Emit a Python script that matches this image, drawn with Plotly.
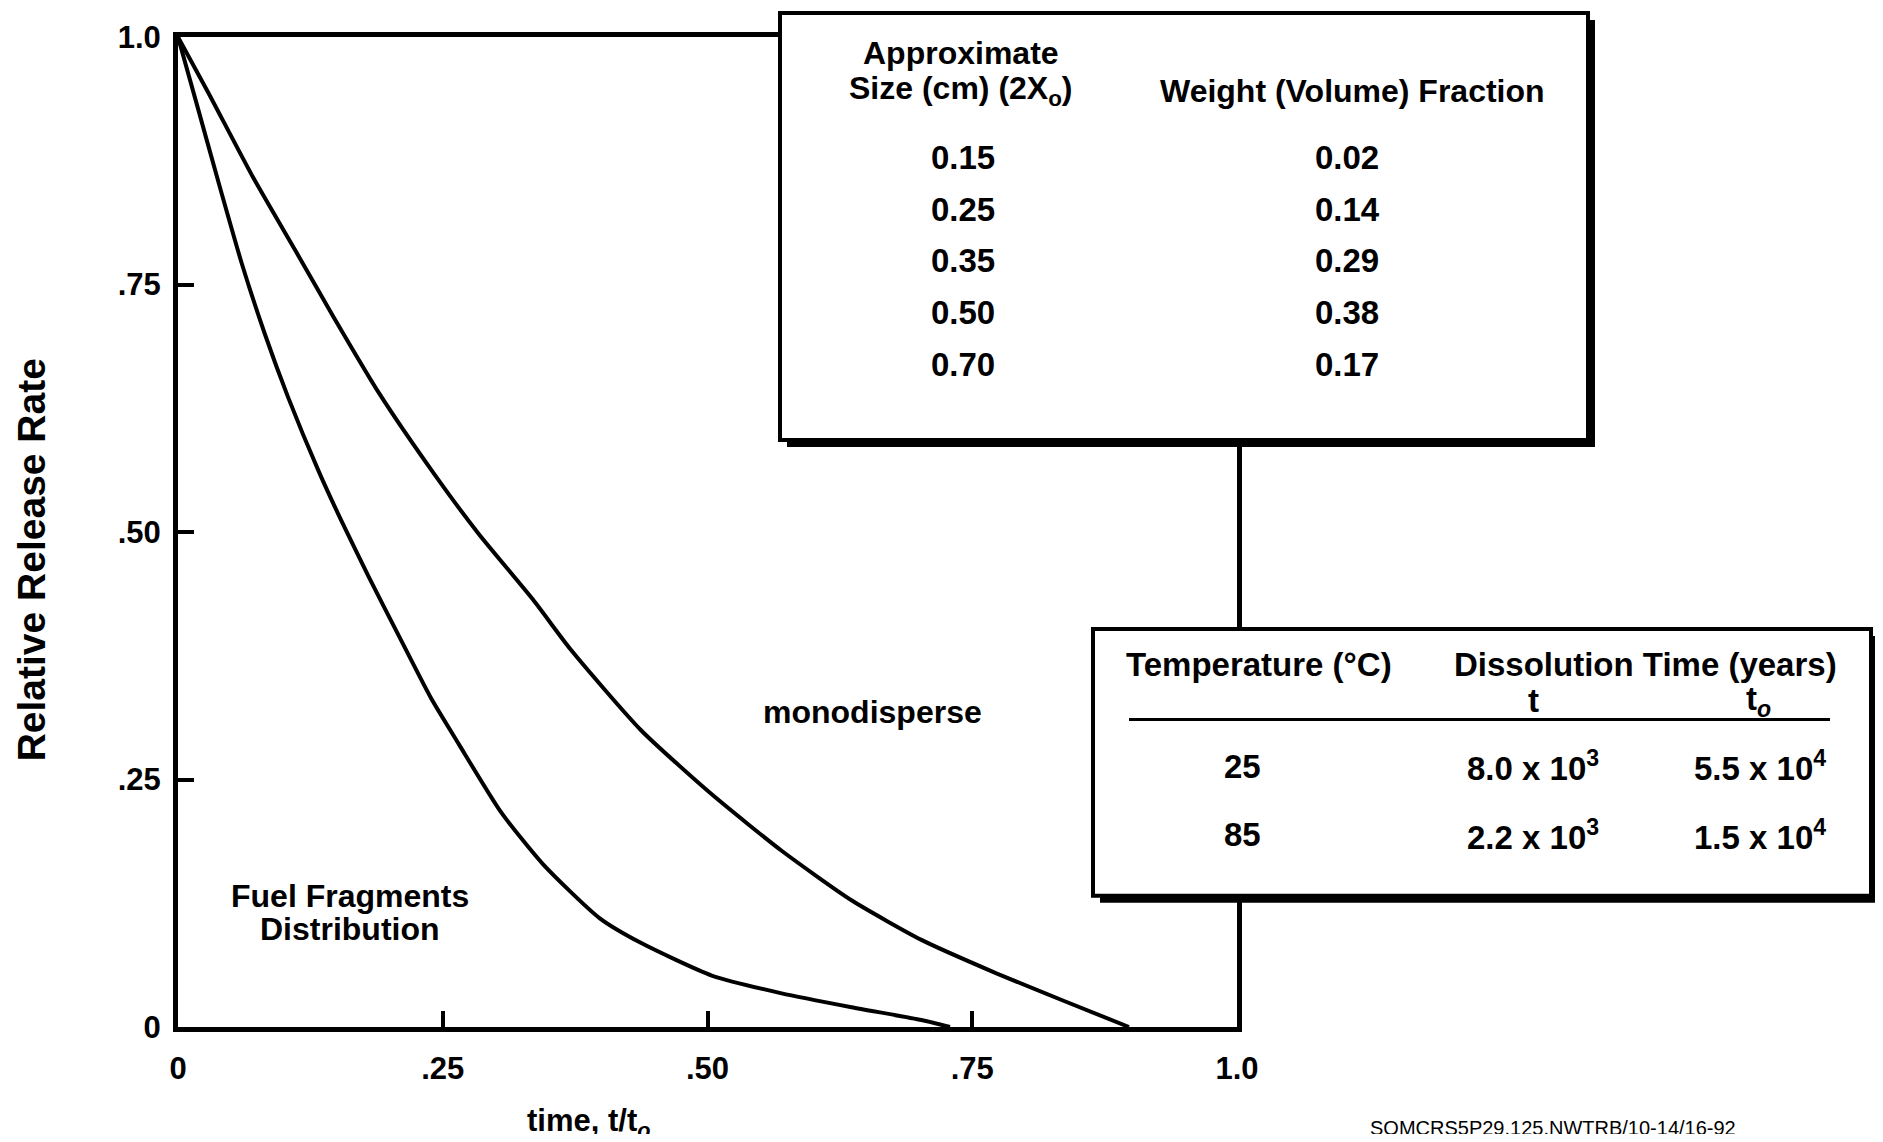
import plotly.graph_objects as go

# ---------------- data ----------------
mono_t = [0, 0.028, 0.071, 0.111, 0.147, 0.19, 0.241, 0.284, 0.335, 0.371, 0.437, 0.504, 0.57, 0.636, 0.702, 0.769, 0.835, 0.898]
mono_r = [1.0, 0.945, 0.858, 0.784, 0.717, 0.640, 0.560, 0.498, 0.432, 0.381, 0.300, 0.235, 0.178, 0.128, 0.088, 0.056, 0.027, 0.0]

frag_t = [0, 0.017, 0.037, 0.060, 0.082, 0.104, 0.133, 0.154, 0.18, 0.21, 0.239, 0.265, 0.305, 0.345, 0.398, 0.437, 0.504, 0.57, 0.636, 0.702, 0.729]
frag_r = [1.0, 0.935, 0.858, 0.772, 0.700, 0.636, 0.561, 0.512, 0.455, 0.392, 0.332, 0.286, 0.217, 0.164, 0.110, 0.085, 0.052, 0.034, 0.020, 0.007, 0.0]

tick_vals = [0, 0.25, 0.5, 0.75, 1.0]
tick_text = ["0", ".25", ".50", ".75", "1.0"]

size_cm = ["0.15", "0.25", "0.35", "0.50", "0.70"]
weight_fraction = ["0.02", "0.14", "0.29", "0.38", "0.17"]

temperature_c = ["25", "85"]
t_mantissa = ["8.0", "2.2"]
t_exponent = ["3", "3"]
to_mantissa = ["5.5", "1.5"]
to_exponent = ["4", "4"]

# ---------------- layout helpers ----------------
SCREEN_W, SCREEN_H = 1883, 1142
BODY = 8                      # default page margin around the plot div
W, H = SCREEN_W - 2 * BODY, SCREEN_H - 2 * BODY
L, R, T, B = 178, 1237, 32, 1027   # plot area in screen pixels
FONT = "Liberation Sans, Arial, Helvetica, sans-serif"


def px(x):
    return (x - L) / (R - L)


def py(y):
    return (B - y) / (B - T)


fig = go.Figure()
for xs, ys in [(mono_t, mono_r), (frag_t, frag_r)]:
    fig.add_trace(go.Scatter(x=xs, y=ys, mode="lines",
                             line=dict(color="black", width=4, shape="spline", smoothing=0.6),
                             hoverinfo="skip", showlegend=False))

axis_common = dict(range=[0, 1], showgrid=False, zeroline=False, showline=True, mirror=True,
                   linecolor="black", linewidth=5, ticks="inside", ticklen=16, tickwidth=4,
                   tickcolor="black", tickvals=tick_vals, ticktext=tick_text,
                   tickfont=dict(family=FONT, size=31, color="black", weight=700))
fig.update_xaxes(**axis_common, ticklabelstandoff=10)
fig.update_yaxes(**axis_common, ticklabelstandoff=6)

shapes = []
annotations = []


def text(x, y, s, size=32, weight=700, anchor="center"):
    annotations.append(dict(x=px(x), y=py(y), xref="paper", yref="paper", text=s, showarrow=False,
                            xanchor=anchor, yanchor="middle",
                            font=dict(family=FONT, size=size, color="black", weight=weight)))


def box(x0, y0, x1, y1, shadow=7):
    shapes.append(dict(type="rect", xref="paper", yref="paper", layer="above",
                       x0=px(x0 + shadow), x1=px(x1 + shadow), y0=py(y0 + shadow), y1=py(y1 + shadow),
                       fillcolor="black", line=dict(width=0)))
    shapes.append(dict(type="rect", xref="paper", yref="paper", layer="above",
                       x0=px(x0), x1=px(x1), y0=py(y0), y1=py(y1),
                       fillcolor="white", line=dict(color="black", width=4)))


# table 1
box(780, 8, 1588, 437)
text(961, 48, "Approximate")
text(961, 86, "Size (cm) (2X<sub>o</sub>)")
text(1352, 86, "Weight (Volume) Fraction")
for i, (s, w) in enumerate(zip(size_cm, weight_fraction)):
    yy = 153 + 52 * i
    text(963, yy, s, size=33)
    text(1347, yy, w, size=33)

# table 2
box(1093, 627, 1871, 895)
text(1259, 663, "Temperature (°C)", size=33)
text(1645, 663, "Dissolution Time (years)", size=33)
text(1533, 699, "t", size=33)
text(1758, 699, "t<sub><i>o</i></sub>", size=33)
shapes.append(dict(type="line", xref="paper", yref="paper", layer="above",
                   x0=px(1129), x1=px(1830), y0=py(718), y1=py(718),
                   line=dict(color="black", width=3)))
for i in range(len(temperature_c)):
    yy = 765 + 69 * i
    text(1242, yy, temperature_c[i], size=33)
    text(1533, yy, f"{t_mantissa[i]} x 10<sup>{t_exponent[i]}</sup>", size=33)
    text(1760, yy, f"{to_mantissa[i]} x 10<sup>{to_exponent[i]}</sup>", size=33)

# curve labels
text(872, 710, "monodisperse", size=32)
text(350, 895, "Fuel Fragments", size=32)
text(350, 929, "Distribution", size=32)

# axis titles
annotations.append(dict(x=px(31), y=py(558), xref="paper", yref="paper", text="Relative Release Rate",
                        showarrow=False, textangle=-90, xanchor="center", yanchor="middle",
                        font=dict(family=FONT, size=39, color="black", weight=700)))
text(588, 1123, "time, t/t<sub><i>o</i></sub>", size=31)

# footer
text(1553, 1129, "SOMCRS5P29.125.NWTRB/10-14/16-92", size=20, weight=400)

fig.update_layout(width=W, height=H,
                  margin=dict(l=L - BODY, r=W - (R - BODY), t=T - BODY, b=H - (B - BODY), pad=0),
                  paper_bgcolor="white", plot_bgcolor="white",
                  shapes=shapes, annotations=annotations, showlegend=False)

fig.write_html("out.html")
